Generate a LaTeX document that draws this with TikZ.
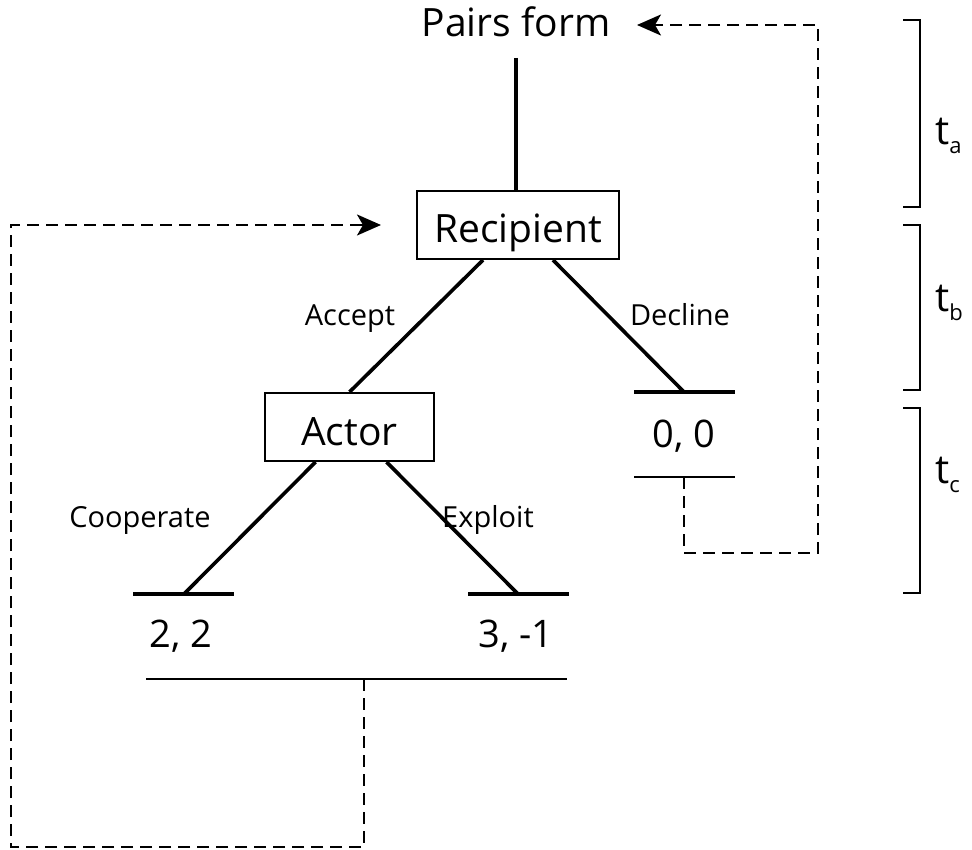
\documentclass[tikz,border=0pt]{standalone}
\usepackage{fontspec}
\setmainfont{Open Sans}
\usetikzlibrary{arrows.meta,calc}
\begin{document}
\begin{tikzpicture}[x=1pt,y=-1pt,
  big/.style={font=\fontsize{39}{39}\selectfont, inner sep=0pt},
  lab/.style={font=\fontsize{29}{29}\selectfont, anchor=base, inner sep=0pt},
  pay/.style={font=\fontsize{38}{38}\selectfont, anchor=base, inner sep=0pt},
  box/.style={draw, line width=2pt, inner sep=0pt, minimum height=68pt,
              text height=36pt, text depth=0pt, font=\fontsize{39}{39}\selectfont},
  edge/.style={line width=3.6pt},
  bar/.style={line width=4.2pt},
  thinline/.style={line width=2pt},
  loopline/.style={line width=2.2pt, dash pattern=on 12pt off 7pt},
  tipline/.style={line width=2.2pt, solid,
                  -{Stealth[length=24pt,width=21pt,inset=6pt]}},
  brk/.style={line width=1.9pt},
  tlab/.style={anchor=base west, inner sep=0pt}
]
\useasboundingbox (0,0) rectangle (972,850);

% main nodes
\node[big, anchor=base] (pairs) at (516,37) {Pairs form};
\node[box, minimum width=202pt] (rec) at (518,225) {Recipient};
\node[box, minimum width=169pt] (act) at (349.5,427) {Actor};

% leaf points
\coordinate (dl) at (684,392);
\coordinate (cl) at (184,594);
\coordinate (el) at (518,594);
\coordinate (u0) at (684,477);
\coordinate (u1) at (364,679);

% tree edges
\draw[edge] ([yshift=-21pt]pairs.base) -- (pairs.base |- rec.north);
\draw[edge] ([xshift=-35pt]rec.south) -- (act.north);
\draw[edge] ([xshift=35pt]rec.south) -- (dl);
\draw[edge] ([xshift=-34pt]act.south) -- (cl);
\draw[edge] ([xshift=37pt]act.south) -- (el);

% bars
\draw[bar] ([xshift=-50pt]dl) -- ([xshift=51pt]dl);
\draw[bar] ([xshift=-51pt]cl) -- ([xshift=50pt]cl);
\draw[bar] ([xshift=-50pt]el) -- ([xshift=51pt]el);

% edge labels
\node[lab] (acc) at (350,326) {Accept};
\node[lab] (dec) at (680,326) {Decline};
\node[lab] (coo) at (140,527) {Cooperate};
\node[lab] (exp) at (488,527) {Exploit};

% payoffs
\node[pay] (p00) at (684,447) {0, 0};
\node[pay] (p22) at (181,647) {2, 2};
\node[pay] (p31) at (516,647) {3, -1};

% thin lines
\draw[thinline] ([xshift=-50pt]u0) -- ([xshift=51pt]u0);
\draw[thinline] ([xshift=-218pt]u1) -- ([xshift=203pt]u1);

% dashed loops
\coordinate (rA) at (818,553);
\coordinate (ta) at (637,25);
\coordinate (tas) at (662,25);
\coordinate (lA) at (11,847);
\coordinate (tb) at (381,225);
\coordinate (tbs) at (356,225);
\draw[loopline] (u0) |- (rA) |- (tas);
\draw[tipline] (tas) -- (ta);
\draw[loopline] (u1) |- (lA) |- (tbs);
\draw[tipline] (tbs) -- (tb);

% brackets
\draw[brk] (903,20) -- (920,20) -- (920,207) -- (903,207);
\draw[brk] (903,225) -- (920,225) -- (920,390) -- (903,390);
\draw[brk] (903,408) -- (920,408) -- (920,593) -- (903,593);
\node[tlab] (tla) at (935,145) {\fontsize{40}{40}\selectfont t\raisebox{-9pt}{\fontsize{22}{22}\selectfont a}};
\node[tlab] (tlb) at (935,312) {\fontsize{40}{40}\selectfont t\raisebox{-9pt}{\fontsize{22}{22}\selectfont b}};
\node[tlab] (tlc) at (935,483) {\fontsize{40}{40}\selectfont t\raisebox{-9pt}{\fontsize{22}{22}\selectfont c}};
\end{tikzpicture}
\end{document}
